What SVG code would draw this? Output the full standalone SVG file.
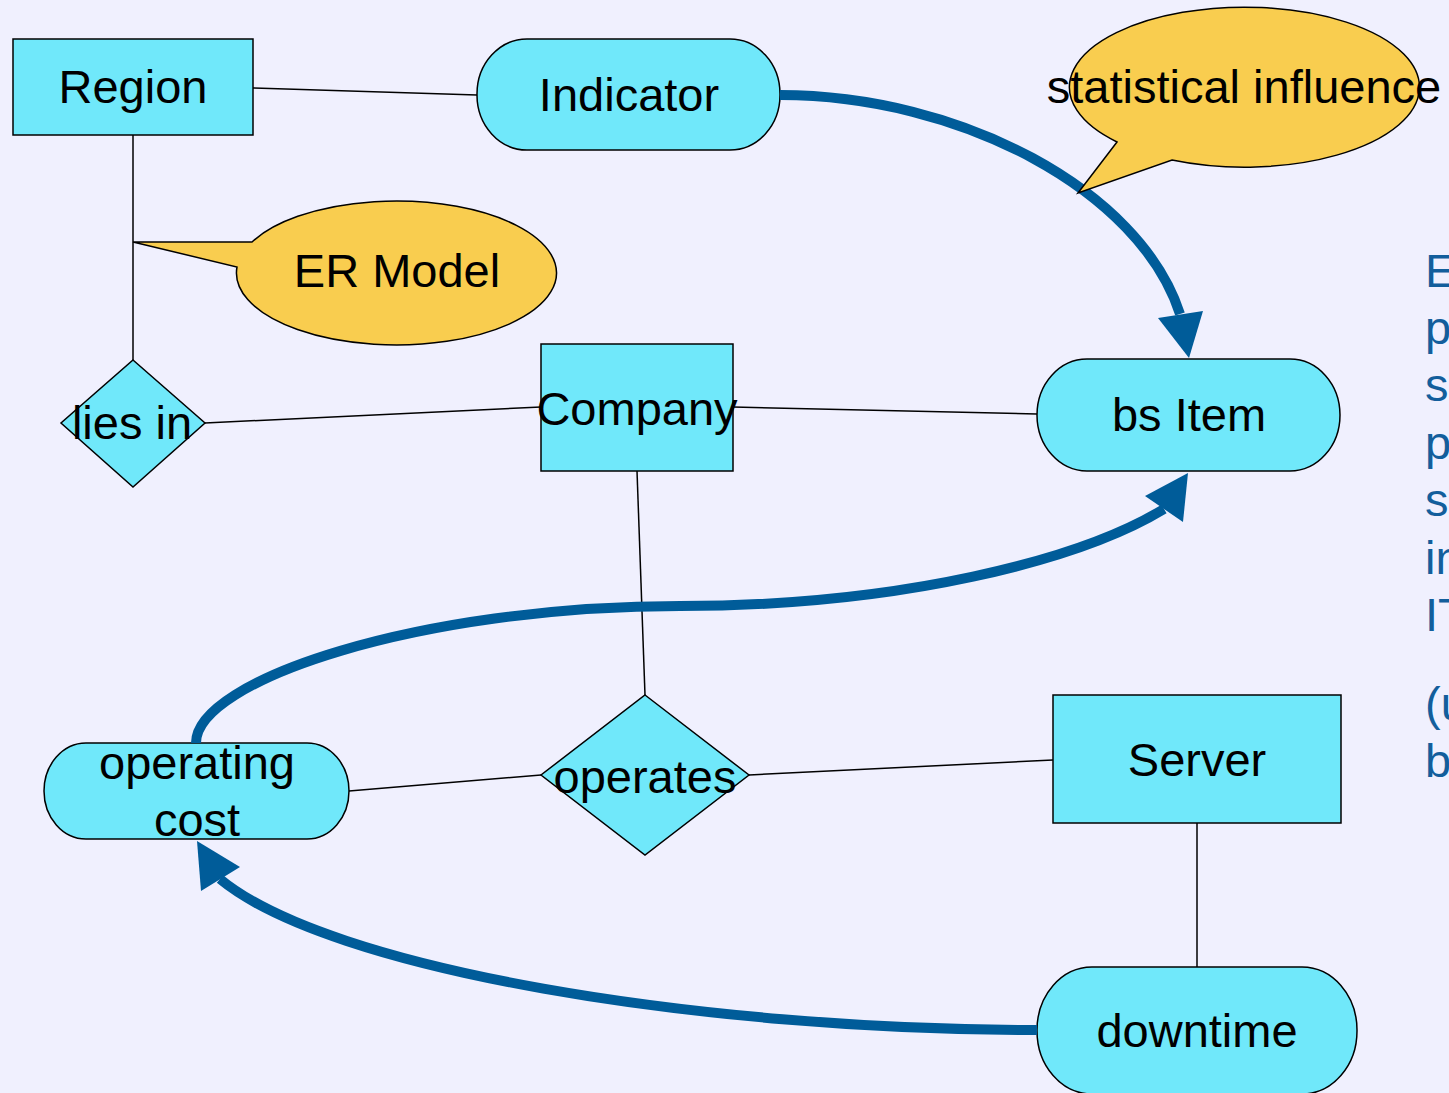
<svg xmlns="http://www.w3.org/2000/svg" width="1449" height="1093" viewBox="0 0 1449 1093">
  <style>
    .shape { fill: #70E8FA; stroke: #000; stroke-width: 1.5; }
    .note { fill: #F9CD4F; stroke: #000; stroke-width: 1.5; }
    .label { font-family: "Liberation Sans", Arial, sans-serif; font-size: 47px; fill: #000; text-anchor: middle; }
    .link { stroke: #000; stroke-width: 1.5; fill: none; }
    .flow { stroke: #005C99; stroke-width: 10; fill: none; }
    .head { fill: #005C99; }
    .side { font-family: "Liberation Sans", Arial, sans-serif; font-size: 47px; fill: #135E9C; }
  </style>

  <rect x="0" y="0" width="1449" height="1093" fill="#F0F0FE"/>

  <!-- ER relationship lines -->
  <g id="connectors">
    <line class="link" x1="253" y1="88" x2="477" y2="95"/>
    <line class="link" x1="133" y1="135" x2="133" y2="360"/>
    <line class="link" x1="205" y1="423" x2="541" y2="407"/>
    <line class="link" x1="733" y1="407" x2="1037" y2="414"/>
    <line class="link" x1="637" y1="471" x2="645" y2="695"/>
    <line class="link" x1="349" y1="791" x2="541" y2="775"/>
    <line class="link" x1="749" y1="775" x2="1053" y2="760"/>
    <line class="link" x1="1197" y1="823" x2="1197" y2="967"/>
  </g>

  <!-- entities -->
  <g id="region">
    <rect class="shape" x="13" y="39" width="240" height="96"/>
    <text class="label" x="133" y="103">Region</text>
  </g>
  <g id="company">
    <rect class="shape" x="541" y="344" width="192" height="127"/>
    <text class="label" x="637" y="425">Company</text>
  </g>
  <g id="server">
    <rect class="shape" x="1053" y="695" width="288" height="128"/>
    <text class="label" x="1197" y="776">Server</text>
  </g>

  <!-- attributes -->
  <g id="indicator">
    <rect class="shape" x="477" y="39" width="303" height="111" rx="50" ry="55"/>
    <text class="label" x="629" y="111">Indicator</text>
  </g>
  <g id="bs-item">
    <rect class="shape" x="1037" y="359" width="303" height="112" rx="50" ry="56"/>
    <text class="label" x="1189" y="431">bs Item</text>
  </g>
  <g id="operating-cost">
    <rect class="shape" x="44" y="743" width="305" height="96" rx="42" ry="48"/>
    <text class="label" x="197" y="779">operating</text>
    <text class="label" x="197" y="836">cost</text>
  </g>
  <g id="downtime">
    <rect class="shape" x="1037" y="967" width="320" height="127" rx="55" ry="63"/>
    <text class="label" x="1197" y="1047">downtime</text>
  </g>

  <!-- relationships -->
  <g id="lies-in">
    <polygon class="shape" points="133,360 205,423 133,487 61,423"/>
    <text class="label" x="132" y="439">lies in</text>
  </g>
  <g id="operates">
    <polygon class="shape" points="645,695 749,775 645,855 541,775"/>
    <text class="label" x="645" y="793">operates</text>
  </g>

  <!-- statistical influence arrows -->
  <g id="influence-arrows">
    <path class="flow" d="M 780 95 C 960 95, 1140 190, 1180 314"/>
    <polygon class="head" points="1189,358 1158,318 1203,311"/>
    <path class="flow" d="M 196 743 C 196 680, 420 606, 680 606 C 900 606, 1080 560, 1164 509"/>
    <polygon class="head" points="1188,473 1145,496 1183,522"/>
    <path class="flow" d="M 1037 1030 C 700 1030, 330 970, 220 879"/>
    <polygon class="head" points="197,841 240,867 201,891"/>
  </g>

  <!-- speech-bubble notes -->
  <g id="er-model-note">
    <path class="note" d="M 252 242 L 133 242 L 237 267 A 160 72 0 1 0 252 242 Z"/>
    <text class="label" x="397" y="287">ER Model</text>
  </g>
  <g id="statistical-influence-note">
    <path class="note" d="M 1117 142 L 1078 193 L 1172 160 A 175 80 0 1 0 1117 142 Z"/>
    <text class="label" x="1244" y="103">statistical influence</text>
  </g>

  <!-- side text running off the right edge -->
  <g id="side-text">
    <text class="side" x="1425" y="287">E</text>
    <text class="side" x="1425" y="344">p</text>
    <text class="side" x="1425" y="401">s</text>
    <text class="side" x="1425" y="459">p</text>
    <text class="side" x="1425" y="516">s</text>
    <text class="side" x="1425" y="574">in</text>
    <text class="side" x="1425" y="631">IT</text>
    <text class="side" x="1425" y="720">(u</text>
    <text class="side" x="1425" y="777">b</text>
  </g>
</svg>
